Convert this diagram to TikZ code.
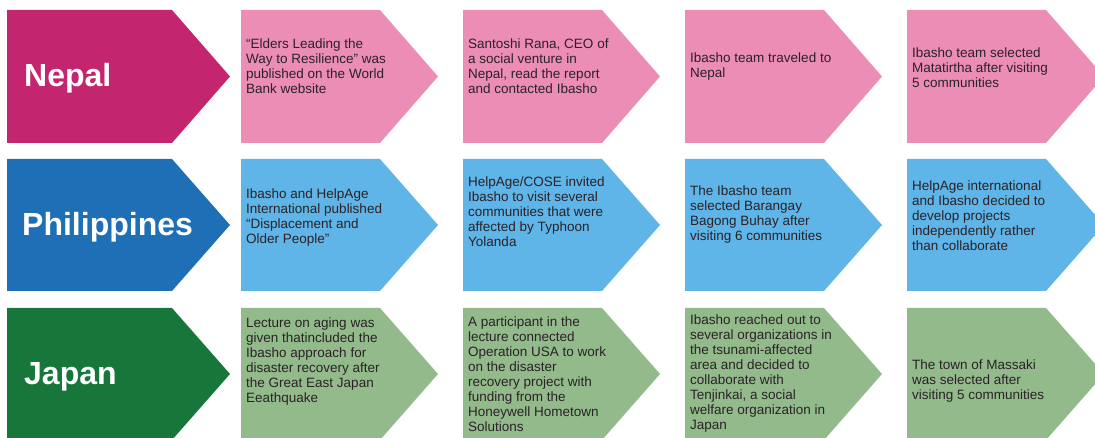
\documentclass[tikz,border=0pt]{standalone}
\usepackage{fontspec}
\setmainfont{Liberation Sans}
\usepackage{tikz}

\definecolor{nepalD}{HTML}{C3266F}
\definecolor{nepalL}{HTML}{EC8DB6}
\definecolor{philD}{HTML}{1E6FB5}
\definecolor{philL}{HTML}{5FB4E8}
\definecolor{japD}{HTML}{17773B}
\definecolor{japL}{HTML}{92BA8B}
\definecolor{evtext}{HTML}{2A2226}

\begin{document}
\begin{tikzpicture}[x=1pt,y=-1pt,
	country/.style={anchor=west,inner sep=0pt,text=white,font=\fontsize{32}{36}\selectfont\bfseries},
	event/.style={anchor=west,align=left,inner sep=0pt,text=evtext,font=\fontsize{13.5}{15}\selectfont}]
	\useasboundingbox (0,0) rectangle (1095,438);
	% Nepal
	\fill[nepalD](7,10)--(172,10)--(230,76.5)--(172,143)--(7,143)--cycle;
	\fill[nepalL](241,10)--(380,10)--(438,76.5)--(380,143)--(241,143)--cycle;
	\fill[nepalL](463,10)--(602,10)--(660,76.5)--(602,143)--(463,143)--cycle;
	\fill[nepalL](685,10)--(824,10)--(882,76.5)--(824,143)--(685,143)--cycle;
	\fill[nepalL](907,10)--(1046,10)--(1104,76.5)--(1046,143)--(907,143)--cycle;
	\node[country](nepal) at (24,78) {Nepal};
	\node[event](nepal1) at (246,66) {“Elders Leading the\\Way to Resilience” was\\published on the World\\Bank website};
	\node[event](nepal2) at (468,66) {Santoshi Rana, CEO of\\a social venture in\\Nepal, read the report\\and contacted Ibasho};
	\node[event](nepal3) at (690,67) {Ibasho team traveled to\\Nepal};
	\node[event](nepal4) at (912,68) {Ibasho team selected\\Matatirtha after visiting\\5 communities};
	% Philippines
	\fill[philD](7,159)--(172,159)--(230,225)--(172,291)--(7,291)--cycle;
	\fill[philL](241,159)--(380,159)--(438,225)--(380,291)--(241,291)--cycle;
	\fill[philL](463,159)--(602,159)--(660,225)--(602,291)--(463,291)--cycle;
	\fill[philL](685,159)--(824,159)--(882,225)--(824,291)--(685,291)--cycle;
	\fill[philL](907,159)--(1046,159)--(1104,225)--(1046,291)--(907,291)--cycle;
	\node[country](phil) at (22,227) {Philippines};
	\node[event](phil1) at (246,218) {Ibasho and HelpAge\\International published\\“Displacement and\\Older People”};
	\node[event](phil2) at (468,212) {HelpAge/COSE invited\\Ibasho to visit several\\communities that were\\affected by Typhoon\\Yolanda};
	\node[event](phil3) at (690,215) {The Ibasho team\\selected Barangay\\Bagong Buhay after\\visiting 6 communities};
	\node[event](phil4) at (912,216) {HelpAge international\\and Ibasho decided to\\develop projects\\independently rather\\than collaborate};
	% Japan
	\fill[japD](7,308)--(172,308)--(230,374)--(172,440)--(7,440)--cycle;
	\fill[japL](241,308)--(380,308)--(438,374)--(380,440)--(241,440)--cycle;
	\fill[japL](463,308)--(602,308)--(660,374)--(602,440)--(463,440)--cycle;
	\fill[japL](685,308)--(824,308)--(882,374)--(824,440)--(685,440)--cycle;
	\fill[japL](907,308)--(1046,308)--(1104,374)--(1046,440)--(907,440)--cycle;
	\node[country](japan) at (24,377) {Japan};
	\node[event](japan1) at (246,362) {Lecture on aging was\\given thatincluded the\\Ibasho approach for\\disaster recovery after\\the Great East Japan\\Eeathquake};
	\node[event](japan2) at (468,374) {A participant in the\\lecture connected\\Operation USA to work\\on the disaster\\recovery project with\\funding from the\\Honeywell Hometown\\Solutions};
	\node[event](japan3) at (690,374) {Ibasho reached out to\\several organizations in\\the tsunami-affected\\area and decided to\\collaborate with\\Tenjinkai, a social\\welfare organization in\\Japan};
	\node[event](japan4) at (912,381) {The town of Massaki\\was selected after\\visiting 5 communities};
\end{tikzpicture}
\end{document}
